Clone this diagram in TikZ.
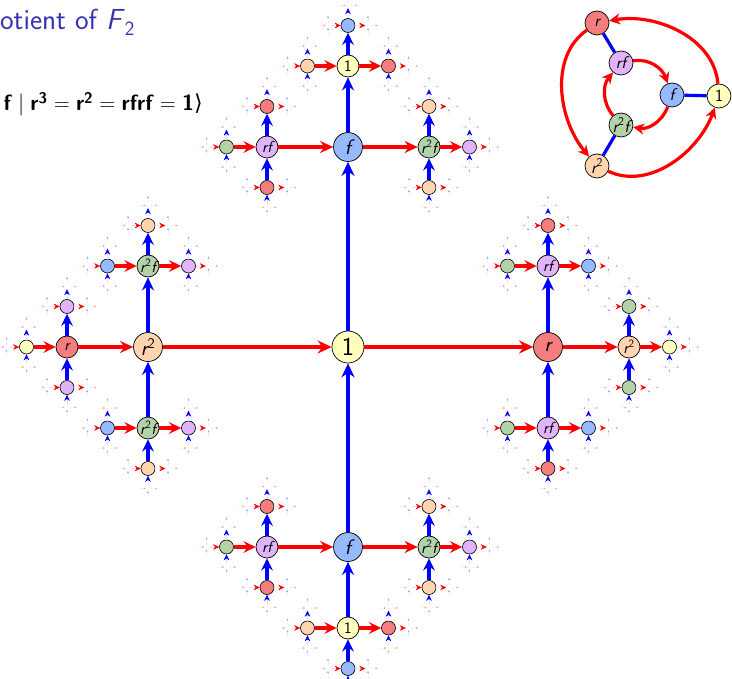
\documentclass[tikz,border=0pt]{standalone}
\usepackage{fontspec}
\newfontfamily\dejavu{DejaVu Sans}
\usetikzlibrary{arrows.meta}

\definecolor{cYel}{RGB}{255,255,190}
\definecolor{cRed}{RGB}{245,125,125}
\definecolor{cPea}{RGB}{255,212,175}
\definecolor{cBlu}{RGB}{150,185,255}
\definecolor{cPur}{RGB}{225,180,250}
\definecolor{cGrn}{RGB}{180,210,170}
\definecolor{bTitle}{RGB}{51,51,178}

\newcommand\rsp{\hspace{0.28em}}

\expandafter\def\csname fillc00\endcsname{cYel}
\expandafter\def\csname fillc10\endcsname{cRed}
\expandafter\def\csname fillc20\endcsname{cPea}
\expandafter\def\csname fillc01\endcsname{cBlu}
\expandafter\def\csname fillc11\endcsname{cPur}
\expandafter\def\csname fillc21\endcsname{cGrn}
\expandafter\def\csname labc00\endcsname{\upshape 1}
\expandafter\def\csname labc10\endcsname{r}
\expandafter\def\csname labc20\endcsname{r\textsuperscript{\upshape 2}}
\expandafter\def\csname labc01\endcsname{f}
\expandafter\def\csname labc11\endcsname{rf}
\expandafter\def\csname labc21\endcsname{r\textsuperscript{\upshape 2}f}

\newcommand\treelen[1]{\ifcase#1 0\or 200\or 81\or 40.5\or 20\or 10\fi}

\newcommand\treechild[5]{%
 \begingroup
  \edef\pn{#3}\edef\pa{#4}\edef\pb{#5}%
  \pgfmathtruncatemacro\lv{#2+1}%
  \edef\L{\treelen{\lv}}%
  \edef\nm{\pn#1}%
  \if#1R\pgfmathtruncatemacro\na{mod(\pa+1+\pb,3)}\edef\nb{\pb}\edef\dx{\L}\edef\dy{0}\def\opp{L}\def\ecol{red}\def\fwd{1}\fi
  \if#1L\pgfmathtruncatemacro\na{mod(\pa+2-\pb,3)}\edef\nb{\pb}\edef\dx{-\L}\edef\dy{0}\def\opp{R}\def\ecol{red}\def\fwd{0}\fi
  \if#1U\edef\na{\pa}\pgfmathtruncatemacro\nb{1-\pb}\edef\dx{0}\edef\dy{\L}\def\opp{D}\def\ecol{blue}\def\fwd{1}\fi
  \if#1D\edef\na{\pa}\pgfmathtruncatemacro\nb{1-\pb}\edef\dx{0}\edef\dy{-\L}\def\opp{U}\def\ecol{blue}\def\fwd{0}\fi
  \ifnum\lv<4
    \edef\fc{\csname fillc\na\nb\endcsname}%
    \ifnum\lv<3
      \expandafter\let\expandafter\lab\csname labc\na\nb\endcsname
    \else
      \def\lab{}%
    \fi
    \edef\tmp{\noexpand\path (\pn) ++(\dx,\dy) node[v\lv,fill=\fc] (\nm) {\noexpand\lab};}\tmp
  \else
    \edef\tmp{\noexpand\path (\pn) ++(\dx,\dy) node[v\lv] (\nm) {};}\tmp
  \fi
  \ifnum\fwd=1
    \edef\tmp{\noexpand\draw[e\lv=\ecol] (\pn) -- (\nm);}\tmp
  \else
    \edef\tmp{\noexpand\draw[e\lv=\ecol] (\nm) -- (\pn);}\tmp
  \fi
  \treegrow{\lv}{\nm}{\na}{\nb}{\opp}%
 \endgroup}

\newcommand\treegrow[5]{%
  \ifnum#1<5
    \if#5R\else\treechild{R}{#1}{#2}{#3}{#4}\fi
    \if#5L\else\treechild{L}{#1}{#2}{#3}{#4}\fi
    \if#5U\else\treechild{U}{#1}{#2}{#3}{#4}\fi
    \if#5D\else\treechild{D}{#1}{#2}{#3}{#4}\fi
  \fi}

\tikzset{
 vb/.style={circle, draw=black, line width=0.7pt, inner sep=0pt},
 v0/.style={vb, minimum size=32pt, font=\sffamily\fontsize{26}{26}\selectfont},
 v1/.style={vb, minimum size=29pt, font=\sffamily\itshape\fontsize{21}{21}\selectfont},
 v2/.style={vb, minimum size=22pt, font=\sffamily\itshape\fontsize{16}{16}\selectfont},
 v3/.style={vb, minimum size=14pt, line width=0.6pt},
 v4/.style={circle, inner sep=0pt, minimum size=5pt},
 v5/.style={circle, inner sep=0pt, minimum size=1pt},
 e1/.style={draw=#1, line width=3.8pt, -{Stealth[length=14pt,width=13pt]}},
 e2/.style={draw=#1, line width=3.8pt, -{Stealth[length=13pt,width=12pt]}},
 e3/.style={draw=#1, line width=3.6pt, -{Stealth[length=12pt,width=11.5pt]}},
 e4/.style={draw=#1!12, line width=0.3pt, -{Stealth[length=6pt,width=5.5pt,color=#1]}},
 e5/.style={draw=#1!6, line width=0.1pt, -{Stealth[length=1.8pt,width=1.6pt,color=#1!45]}},
 iv/.style={circle, draw=black, line width=0.7pt, inner sep=0pt, minimum size=24pt,
   font=\sffamily\itshape\fontsize{17}{17}\selectfont},
 ib/.style={blue, line width=3.2pt},
 ia/.style={red, line width=3.2pt, -{Stealth[length=11pt,width=11pt]}},
}

\begin{document}
\begin{tikzpicture}[x=1pt,y=1pt]
\useasboundingbox (0,0) rectangle (732,-679);
\begin{scope}
\clip (0,0) rectangle (732,-679);

\node[anchor=base east, text=bTitle, inner sep=0pt,
  font=\sffamily\fontsize{29}{29}\selectfont] (title) at (135,-30)
  {Quotient of \textit{F}\textsubscript{2}};
\node[anchor=base east, inner sep=0pt, font=\sffamily\fontsize{22}{22}\selectfont] (pres) at (203,-111)
  {{\dejavu\mdseries ⟨}\textbf{r}, \textbf{f}\rsp|\rsp\textbf{r}\textsuperscript{\bfseries 3}\rsp=\rsp\textbf{r}\textsuperscript{\bfseries 2}\rsp=\rsp\textbf{rfrf}\rsp=\rsp\textbf{1}{\dejavu\mdseries ⟩}};

\node[v0, fill=cYel] (n) at (348,-347) {1};
\treegrow{0}{n}{0}{0}{N}

% inset: Cayley graph of S3
\node[iv, fill=cYel] (i1) at (719,-96) {\upshape 1};
\node[iv, fill=cRed] (ir) at (597,-23) {r};
\node[iv, fill=cPea] (ir2) at (597,-166) {r\textsuperscript{\upshape 2}};
\node[iv, fill=cBlu] (if) at (672,-95) {f};
\node[iv, fill=cPur] (irf) at (621,-63) {rf};
\node[iv, fill=cGrn] (ir2f) at (621,-125) {r\textsuperscript{\upshape 2}f};
\draw[ib] (ir) -- (irf);
\draw[ib] (if) -- (i1);
\draw[ib] (ir2f) -- (ir2);
\draw[ia] (i1) to[out=95, in=10, looseness=0.95] (ir);
\draw[ia] (ir) to[out=215, in=130, looseness=0.95] (ir2);
\draw[ia] (ir2) to[out=335, in=250, looseness=0.95] (i1);
\draw[ia] (irf) to[out=10, in=110] (if);
\draw[ia] (if) to[out=-110, in=-10] (ir2f);
\draw[ia] (ir2f) to[out=130, in=230] (irf);
\end{scope}
\end{tikzpicture}
\end{document}
